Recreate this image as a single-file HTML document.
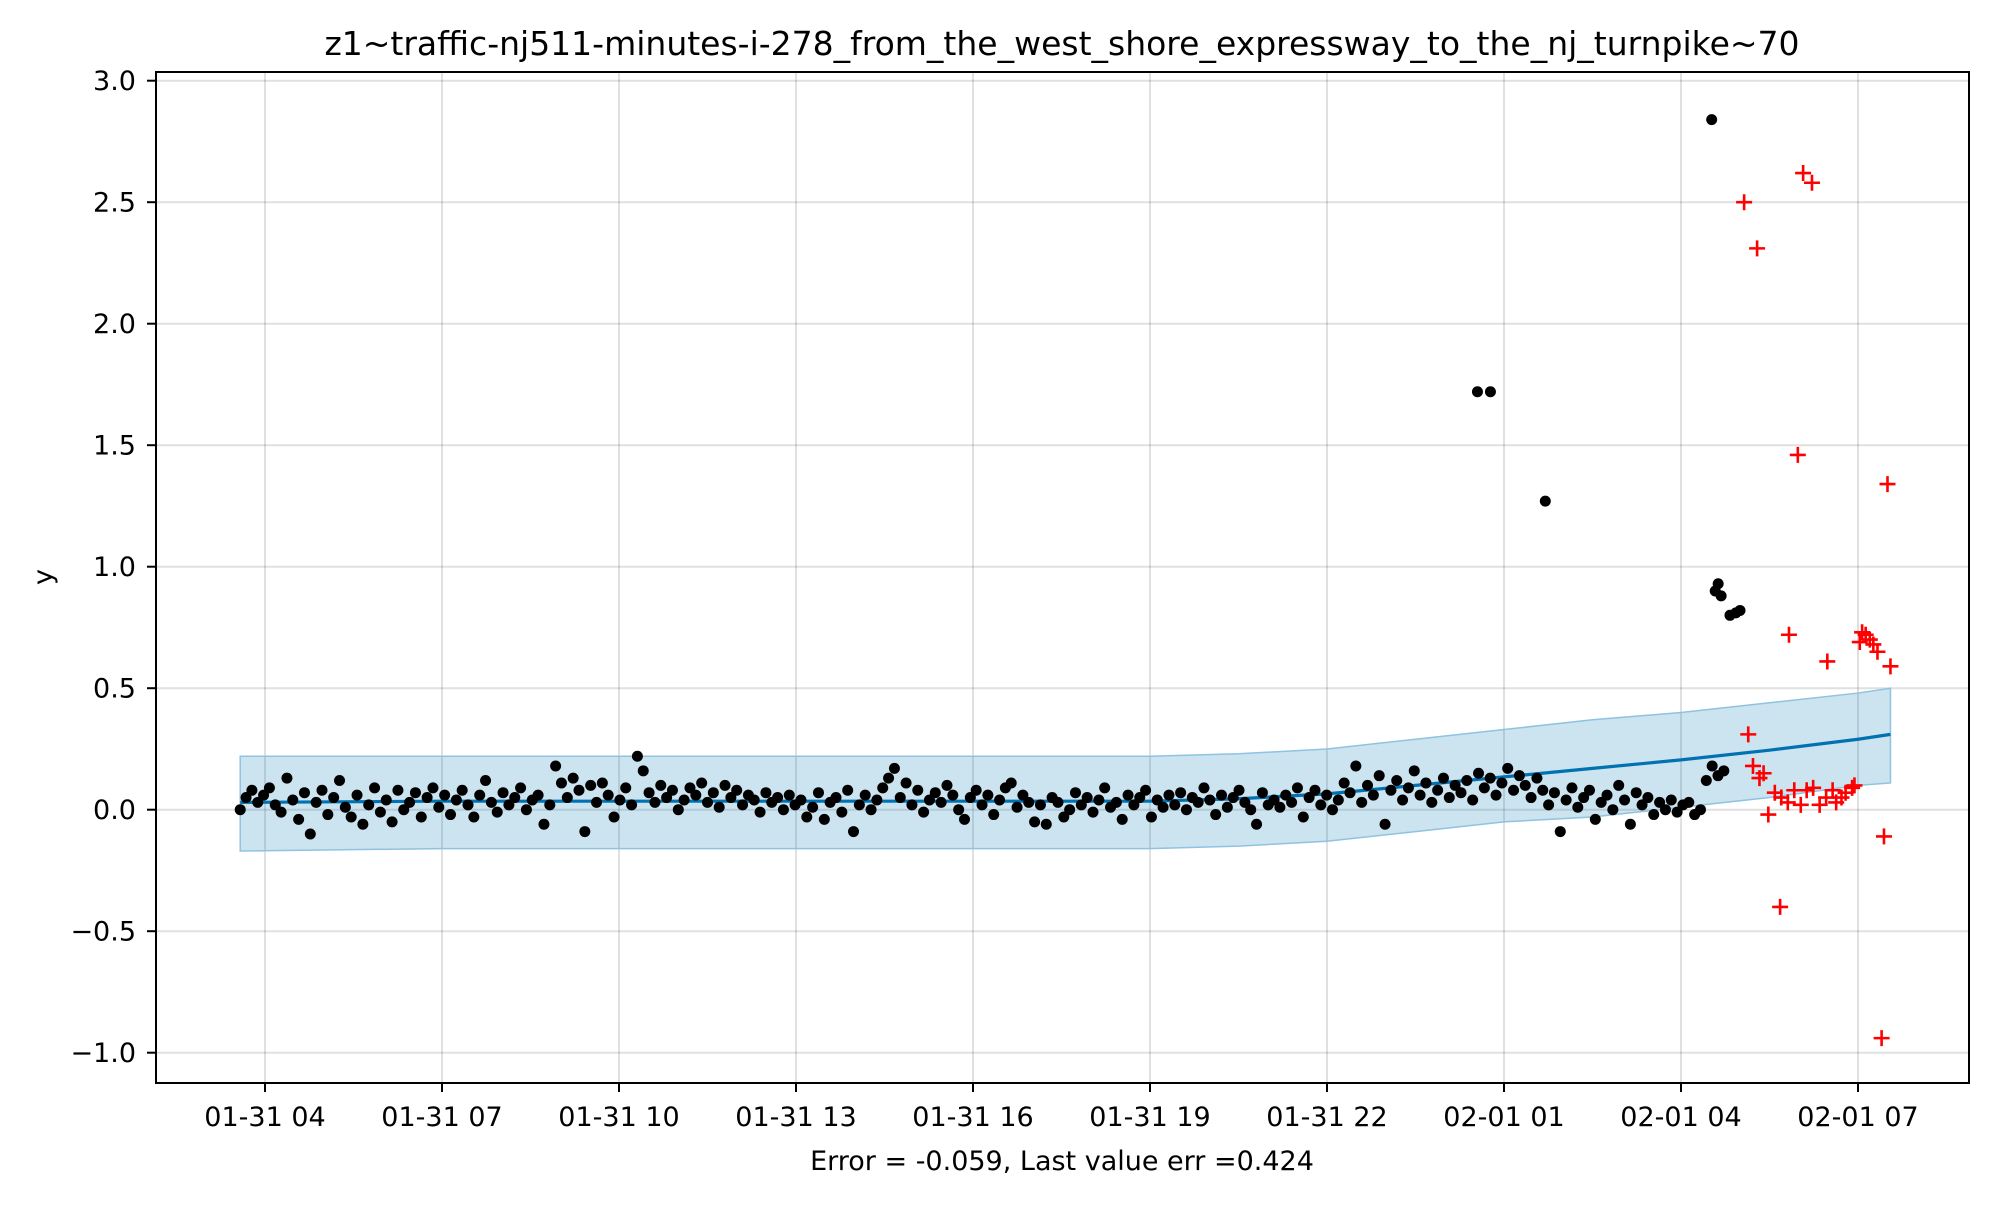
<!DOCTYPE html>
<html><head><meta charset="utf-8"><style>
html,body{margin:0;padding:0;background:#fff;}
svg text{font-family:"DejaVu Sans","Liberation Sans",sans-serif;fill:#000;}
</style></head><body>
<svg id="chart" width="2000" height="1200" viewBox="0 0 2000 1200" xmlns="http://www.w3.org/2000/svg">
<rect width="2000" height="1200" fill="#fff"/>
<text x="1062" y="55" font-size="33" text-anchor="middle">z1~traffic-nj511-minutes-i-278_from_the_west_shore_expressway_to_the_nj_turnpike~70</text>
<g id="grid"></g>
<g id="band"></g>
<g id="line"></g>
<g id="dots"></g>
<g id="plus"></g>
<rect x="156" y="72" width="1813" height="1011" fill="none" stroke="#000" stroke-width="2"/>
<g id="axes"></g>
<text x="52" y="577" font-size="27" text-anchor="middle" transform="rotate(-90 52 577)">y</text>
<text x="1062" y="1170" font-size="27" text-anchor="middle">Error = -0.059, Last value err =0.424</text>
</svg>
<script>
// hours since 01-31 04:00
const xTickHours = [0,3,6,9,12,15,18,21,24,27];
const xTickLabels = ["01-31 04","01-31 07","01-31 10","01-31 13","01-31 16","01-31 19","01-31 22","02-01 01","02-01 04","02-01 07"];
const yTicks = [-1.0,-0.5,0.0,0.5,1.0,1.5,2.0,2.5,3.0];
const yTickLabels = ["\u22121.0","\u22120.5","0.0","0.5","1.0","1.5","2.0","2.5","3.0"];
const obsStart = -0.42;
const obsStep = 0.099;
const obsValues = [
0.00,0.05,0.08,0.03,0.06,0.09,0.02,-0.01,0.13,0.04,
-0.04,0.07,-0.10,0.03,0.08,-0.02,0.05,0.12,0.01,-0.03,
0.06,-0.06,0.02,0.09,-0.01,0.04,-0.05,0.08,0.00,0.03,
0.07,-0.03,0.05,0.09,0.01,0.06,-0.02,0.04,0.08,0.02,
-0.03,0.06,0.12,0.03,-0.01,0.07,0.02,0.05,0.09,0.00,
0.04,0.06,-0.06,0.02,0.18,0.11,0.05,0.13,0.08,-0.09,
0.10,0.03,0.11,0.06,-0.03,0.04,0.09,0.02,0.22,0.16,
0.07,0.03,0.10,0.05,0.08,0.00,0.04,0.09,0.06,0.11,
0.03,0.07,0.01,0.10,0.05,0.08,0.02,0.06,0.04,-0.01,
0.07,0.03,0.05,0.00,0.06,0.02,0.04,-0.03,0.01,0.07,
-0.04,0.03,0.05,-0.01,0.08,-0.09,0.02,0.06,0.00,0.04,
0.09,0.13,0.17,0.05,0.11,0.02,0.08,-0.01,0.04,0.07,
0.03,0.10,0.06,0.00,-0.04,0.05,0.08,0.02,0.06,-0.02,
0.04,0.09,0.11,0.01,0.06,0.03,-0.05,0.02,-0.06,0.05,
0.03,-0.03,0.00,0.07,0.02,0.05,-0.01,0.04,0.09,0.01,
0.03,-0.04,0.06,0.02,0.05,0.08,-0.03,0.04,0.01,0.06,
0.02,0.07,0.00,0.05,0.03,0.09,0.04,-0.02,0.06,0.01,
0.05,0.08,0.03,0.00,-0.06,0.07,0.02,0.04,0.01,0.06,
0.03,0.09,-0.03,0.05,0.08,0.02,0.06,0.00,0.04,0.11,
0.07,0.18,0.03,0.10,0.06,0.14,-0.06,0.08,0.12,0.04,
0.09,0.16,0.06,0.11,0.03,0.08,0.13,0.05,0.10,0.07,
0.12,0.04,0.15,0.09,0.13,0.06,0.11,0.17,0.08,0.14,
0.10,0.05,0.13,0.08,0.02,0.07,-0.09,0.04,0.09,0.01,
0.05,0.08,-0.04,0.03,0.06,0.00,0.10,0.04,-0.06,0.07,
0.02,0.05,-0.02,0.03,0.00,0.04,-0.01,0.02,0.03,-0.02,
0.00,0.12,0.18,0.14,0.16];
const outlierHours = [20.55,20.77,21.7,24.52,24.58,24.63,24.68,24.83,24.93,25.0];
const outlierValues = [1.72,1.72,1.27,2.84,0.90,0.93,0.88,0.80,0.81,0.82];
const futureHours = [25.07,25.14,25.22,25.29,25.33,25.40,25.48,25.59,25.68,25.70,25.81,25.83,25.92,25.98,26.03,26.07,26.13,26.22,26.24,26.35,26.46,26.48,26.57,26.63,26.72,26.79,26.90,26.94,27.03,27.07,27.13,27.20,27.26,27.33,27.40,27.44,27.50,27.55];
const futureValues = [2.50,0.31,0.18,2.31,0.13,0.15,-0.02,0.07,-0.40,0.05,0.03,0.72,0.08,1.46,0.02,2.62,0.08,2.58,0.09,0.02,0.05,0.61,0.08,0.03,0.05,0.07,0.09,0.10,0.69,0.73,0.72,0.70,0.68,0.65,-0.94,-0.11,1.34,0.59];
const fcHours = [-0.42,3,6,9,12,15,16.5,18,19.5,21,22.5,24,25.5,27,27.55];
const fcValues = [0.03,0.035,0.035,0.035,0.035,0.035,0.045,0.065,0.10,0.135,0.17,0.205,0.245,0.29,0.31];
const fcUpper = [0.22,0.22,0.22,0.22,0.22,0.22,0.23,0.25,0.29,0.33,0.37,0.40,0.44,0.48,0.50];
const fcLower = [-0.17,-0.16,-0.16,-0.16,-0.16,-0.16,-0.15,-0.13,-0.09,-0.05,-0.03,0.01,0.05,0.10,0.11];

const NS="http://www.w3.org/2000/svg";
const X0=156,X1=1969,Y0=72,Y1=1083;
function xs(h){return 265+h*59;}
function ys(v){return 809.7-v*243;}
function mk(tag,attrs,parent){const e=document.createElementNS(NS,tag);for(const k in attrs)e.setAttribute(k,attrs[k]);parent.appendChild(e);return e;}
const grid=document.getElementById('grid'),axes=document.getElementById('axes');
xTickHours.forEach((h,i)=>{
  const x=xs(h);
  const g=mk('line',{x1:x,x2:x,y1:Y0,y2:Y1,stroke:'#000','stroke-opacity':0.12,'stroke-width':2},grid);
  
  
  const t=mk('line',{x1:x,x2:x,y1:Y1,y2:Y1+9,stroke:'#000','stroke-width':2},axes);
  
  
  const l=mk('text',{x:x,y:1126,'font-size':27,'text-anchor':'middle'},axes);
  l.textContent=xTickLabels[i];
  
  
});
yTicks.forEach((v,i)=>{
  const y=ys(v);
  const g=mk('line',{x1:X0,x2:X1,y1:y,y2:y,stroke:'#000','stroke-opacity':0.12,'stroke-width':2},grid);
  
  
  const t=mk('line',{x1:X0-9,x2:X0,y1:y,y2:y,stroke:'#000','stroke-width':2},axes);
  
  
  const l=mk('text',{x:X0-20,y:y+9.5,'font-size':27,'text-anchor':'end'},axes);
  l.textContent=yTickLabels[i];
  
  
});
let pts=fcHours.map((h,i)=>xs(h)+','+ys(fcUpper[i]));
for(let i=fcHours.length-1;i>=0;i--)pts.push(xs(fcHours[i])+','+ys(fcLower[i]));
const band=mk('polygon',{points:pts.join(' '),fill:'#0072B2','fill-opacity':0.2,stroke:'#8fc3e0','stroke-width':1.5},document.getElementById('band'));


const ln=mk('polyline',{points:fcHours.map((h,i)=>xs(h)+','+ys(fcValues[i])).join(' '),fill:'none',stroke:'#0072B2','stroke-width':3.2},document.getElementById('line'));


const dots=document.getElementById('dots');
obsValues.forEach((v,i)=>{
  const c=mk('circle',{cx:xs(obsStart+i*obsStep),cy:ys(v),r:5.5,fill:'#000'},dots);
  
  
});
outlierHours.forEach((h,i)=>{
  const c=mk('circle',{cx:xs(h),cy:ys(outlierValues[i]),r:5.5,fill:'#000'},dots);
  
  
});
const plus=document.getElementById('plus');
futureHours.forEach((h,i)=>{
  const x=xs(h),y=ys(futureValues[i]);
  const p=mk('path',{d:`M${x-8},${y}H${x+8}M${x},${y-8}V${y+8}`,stroke:'#ff0000','stroke-width':2.6,fill:'none'},plus);
  
  
});
</script>
</body></html>
